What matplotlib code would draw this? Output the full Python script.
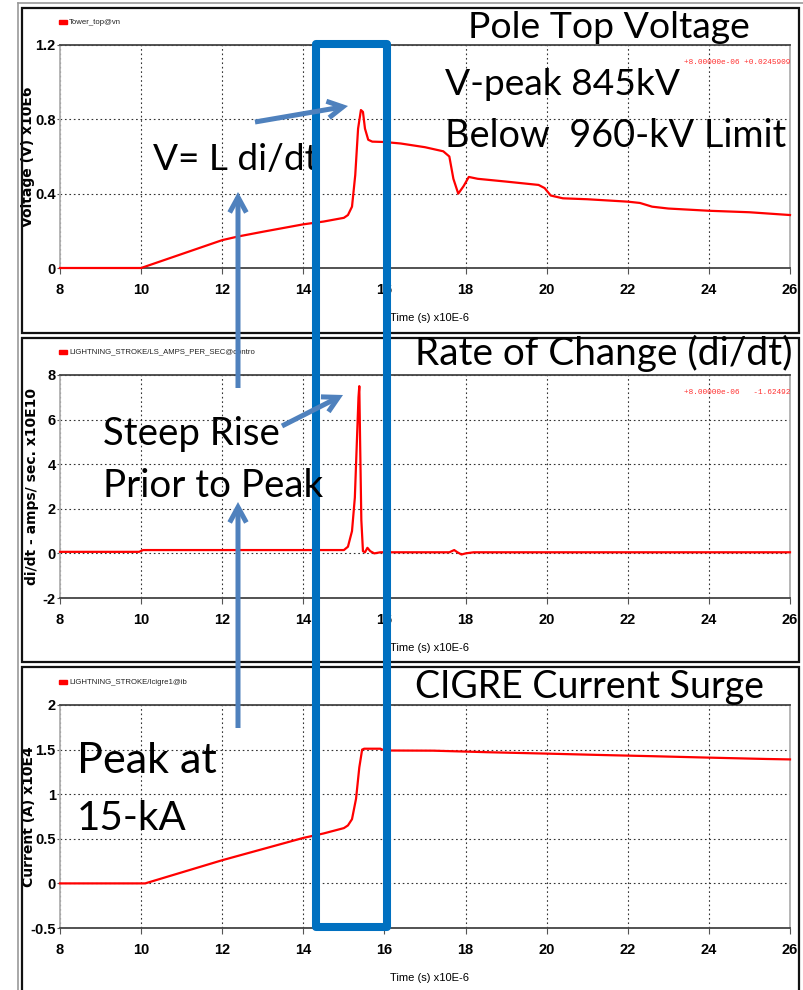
import matplotlib
matplotlib.use("Agg")
import matplotlib.pyplot as plt
from matplotlib.patches import Rectangle, FancyArrowPatch
from matplotlib.lines import Line2D

W, H = 804, 990

# time axis in x10E-6 s
x_ticks = [8, 10, 12, 14, 16, 18, 20, 22, 24, 26]

# pole top voltage (x10E6 V)
volt_t = [8, 10, 11, 12, 12.4, 13, 14, 14.5, 15.0, 15.1, 15.2, 15.28, 15.35, 15.42,
          15.47, 15.52, 15.6, 15.7, 16.0, 16.4, 17.0, 17.45, 17.6, 17.7, 17.82,
          17.95, 18.08, 18.3, 19.0, 19.8, 19.95, 20.1, 20.4, 21.0, 22.0, 22.3,
          22.6, 23.0, 24.0, 25.0, 26.0]
volt_v = [0, 0, 0.075, 0.15, 0.17, 0.195, 0.235, 0.25, 0.27, 0.285, 0.33, 0.5,
          0.75, 0.85, 0.84, 0.75, 0.69, 0.68, 0.678, 0.67, 0.65, 0.628, 0.60,
          0.48, 0.40, 0.44, 0.49, 0.48, 0.465, 0.447, 0.43, 0.39, 0.375, 0.37,
          0.357, 0.35, 0.33, 0.32, 0.308, 0.30, 0.285]

# di/dt (x10E10 A/s)
didt_t = [8, 9.95, 10.05, 15.0, 15.1, 15.2, 15.27, 15.32, 15.36, 15.38, 15.40,
          15.43, 15.47, 15.52, 15.58, 15.65, 15.75, 15.9, 16.2, 17.6, 17.72,
          17.8, 17.9, 18.0, 18.2, 26]
didt_v = [0.07, 0.07, 0.15, 0.15, 0.3, 1.0, 2.5, 5.0, 7.0, 7.5, 5.0, 1.5, 0.1,
          0.05, 0.25, 0.1, 0.0, 0.05, 0.05, 0.05, 0.15, 0.05, -0.05, 0.0, 0.05,
          0.05]

# CIGRE current (x10E4 A)
cur_t = [8, 10.1, 12, 14, 14.5, 15.0, 15.1, 15.2, 15.3, 15.38, 15.45, 15.5,
         15.9, 16.0, 17.2, 18.6, 20.0, 21.3, 22.7, 24.0, 25.4, 26]
cur_v = [0, 0, 0.26, 0.51, 0.56, 0.62, 0.65, 0.72, 0.95, 1.3, 1.5, 1.51, 1.51,
         1.49, 1.488, 1.47, 1.455, 1.44, 1.425, 1.41, 1.395, 1.39]

BIG = ["Lato", "DejaVu Sans"]
NARROW = ["Liberation Sans Narrow", "Liberation Sans", "DejaVu Sans"]
RED = "#ff0000"
ARROW = "#4f81bd"
BOX = "#0070c0"


def fx(x):
    return x / W


def fy(y):
    return 1 - y / H


fig = plt.figure(figsize=(W / 100, H / 100), dpi=100)
fig.patch.set_facecolor("white")


def panel(top, t, v, ylim, yticks, ylabels, ylabel, lab_x, legend, readout):
    ax = fig.add_axes([fx(60), fy(top + 223), fx(730), 223 / H])
    ax.plot(t, v, color=RED, lw=1.6, clip_on=False, zorder=3)
    ax.set_xlim(8, 26)
    ax.set_ylim(*ylim)
    ax.set_xticks(x_ticks)
    ax.set_xticklabels([str(x) for x in x_ticks])
    ax.set_yticks(yticks)
    ax.set_yticklabels(ylabels)
    for lab in ax.get_xticklabels() + ax.get_yticklabels():
        lab.set_family(NARROW)
        lab.set_fontsize(10.5)
        lab.set_fontweight("bold")
    ax.tick_params(axis="x", length=4, width=0.8, pad=7, color="#555555")
    ax.tick_params(axis="y", length=2, width=0.8, pad=1, color="#555555")
    ax.grid(True, color="#333333", lw=0.8, ls=(0, (1.5, 2.5)))
    ax.set_axisbelow(True)
    for s in ("top", "bottom"):
        ax.spines[s].set_color("#444444")
        ax.spines[s].set_linewidth(1.3)
    for s in ("left", "right"):
        ax.spines[s].set_color("#b0b0b0")
        ax.spines[s].set_linewidth(1.3)
    ax.set_xlabel("Time (s) x10E-6", family=NARROW, fontsize=8,
                  ha="left", va="center")
    ax.xaxis.set_label_coords(330 / 730, -50 / 223)
    ax.set_ylabel(ylabel, family="DejaVu Sans", fontsize=10, fontweight="bold",
                  va="center")
    ax.yaxis.set_label_coords((lab_x - 60) / 730, 0.5)
    # legend swatch and name
    fig.add_artist(Rectangle((fx(59), fy(top - 21)), fx(8), 4 / H,
                             color=RED, transform=fig.transFigure))
    fig.text(fx(69), fy(top - 23), legend, family=NARROW, fontsize=5.6,
             va="center", ha="left", color="#222222")
    if readout:
        fig.text(fx(790), fy(top + 18), readout,
                 family=["Liberation Mono", "DejaVu Sans Mono"],
                 fontsize=5.6, color="#ff3030", ha="right", va="center")
    return ax


panel(45, volt_t, volt_v, (0, 1.2), [0, 0.4, 0.8, 1.2], ["0", "0.4", "0.8", "1.2"],
      "Voltage (V) x10E6", 28, "Tower_top@vn", "+8.00000e-06 +0.0245909")
panel(375, didt_t, didt_v, (-2, 8), [-2, 0, 2, 4, 6, 8],
      ["-2", "0", "2", "4", "6", "8"], "di/dt - amps/ sec. x10E10", 32,
      "LIGHTNING_STROKE/LS_AMPS_PER_SEC@contro", "+8.00000e-06   -1.62492")
panel(705, cur_t, cur_v, (-0.5, 2), [-0.5, 0, 0.5, 1, 1.5, 2],
      ["-0.5", "0", "0.5", "1", "1.5", "2"], "Current (A) x10E4", 29,
      "LIGHTNING_STROKE/Icigre1@ib", None)

# panel frames
fig.add_artist(Line2D([fx(18), fx(18)], [fy(3), fy(990)], color="#999999", lw=1.2,
                      transform=fig.transFigure))
fig.add_artist(Line2D([fx(18), fx(804)], [fy(3), fy(3)], color="#999999", lw=1.2,
                      transform=fig.transFigure))
for y0, y1 in [(8, 333), (338, 662), (667, 1000)]:
    fig.add_artist(Rectangle((fx(22), fy(y1)), fx(777), (y1 - y0) / H, fill=False,
                             ec="#111111", lw=1.6, transform=fig.transFigure))

# annotation texts: text, left, right, baseline (pixels), drawn over the box?
notes = [
    ("Pole Top Voltage", 468, 750, 38, False),
    ("V-peak 845kV", 445, 680, 95, False),
    ("Below  960-kV Limit", 445, 787, 147, False),
    ("V= L di/dt", 153, 318, 170, False),
    ("Rate of Change (di/dt)", 415, 793, 365, False),
    ("Steep Rise", 103, 280, 445, False),
    ("Prior to Peak", 103, 323, 497, True),
    ("CIGRE Current Surge", 415, 765, 698, False),
    ("Peak at", 77, 217, 773, False),
    ("15-kA", 77, 187, 830, False),
]
renderer = fig.canvas.get_renderer()
for txt, x0, x1, base, over in notes:
    t = fig.text(fx(x0), fy(base), txt, family=BIG, fontsize=25, ha="left",
                 va="baseline", color="black", zorder=8 if over else 5)
    w = t.get_window_extent(renderer).width
    t.set_fontsize(25 * (x1 - x0) / w)

# highlight box around the surge
fig.add_artist(Rectangle((fx(316), fy(927)), fx(71), (927 - 44) / H, fill=False,
                         ec=BOX, lw=5.8, joinstyle="round", transform=fig.transFigure,
                         zorder=6))

# arrows
for (x0, y0), (x1, y1) in [((255, 122), (348, 106)), ((238, 388), (238, 192)),
                           ((282, 426), (343, 395)), ((238, 728), (238, 502))]:
    fig.add_artist(FancyArrowPatch((fx(x0), fy(y0)), (fx(x1), fy(y1)),
                                   transform=fig.transFigure,
                                   arrowstyle="->,head_length=11,head_width=6",
                                   mutation_scale=1, lw=3.6, color=ARROW,
                                   shrinkA=0, shrinkB=0, capstyle="butt",
                                   joinstyle="miter", zorder=7))

fig.savefig("out.png", dpi=100, facecolor="white")
